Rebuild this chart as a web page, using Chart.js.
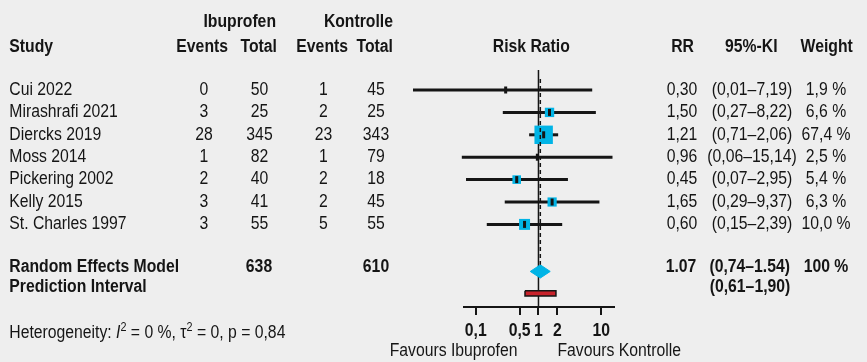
<!DOCTYPE html>
<html><head><meta charset="utf-8">
<script src="https://cdn.jsdelivr.net/npm/chart.js@4.4.1/dist/chart.umd.min.js"></script>
<style>html,body{margin:0;padding:0;background:#eeeeee;} canvas{display:block;}</style>
</head><body>
<canvas id="c" width="867" height="362" style="width:867px;height:362px"></canvas>
<script>
// ---- data ----
const studies = ['Cui 2022','Mirashrafi 2021','Diercks 2019','Moss 2014','Pickering 2002','Kelly 2015','St. Charles 1997'];
const ibuEvents = [0,3,28,1,2,3,3];
const ibuTotal = [50,25,345,82,40,41,55];
const ctrlEvents = [1,2,23,1,2,2,5];
const ctrlTotal = [45,25,343,79,18,45,55];
const rr = [0.30,1.50,1.21,0.96,0.45,1.65,0.60];
const ciLow = [0.01,0.27,0.71,0.06,0.07,0.29,0.15];
const ciHigh = [7.19,8.22,2.06,15.14,2.95,9.37,2.39];
const weights = [1.9,6.6,67.4,2.5,5.4,6.3,10.0];
const pooled = [0.74, 1.07, 1.54];      // low, estimate, high
const predInterval = [0.61, 1.90];
const totals = [638, 610];
const xTicks = [0.1,0.5,1,2,10];
const xTickLabels = ['0,1','0,5','1','2','10'];

// ---- layout ----
const W=867,H=362;
const AXIS_LEFT=464, AXIS_RIGHT=614, AXIS_Y=307;
const X_MIN=0.065, X_MAX=16;
const ROW0_Y=90, ROW_H=22.4;
const Y_MIN=-ROW0_Y/ROW_H, Y_MAX=Y_MIN+AXIS_Y/ROW_H;
const RE_ROW=8.1, PI_ROW=9.08;
const FONT='"Liberation Sans",Arial,sans-serif';
const FS=17.5, SX=0.9;
const CYAN='#00b4e6', INK='#151515';
const fmt=(v,d)=>v.toFixed(d).replace('.',',');

function squareSide(w){ const s=2+3.9*Math.log(w); return s<6?0:s; }

const datasets=[];
// dashed pooled line
datasets.push({data:[{x:pooled[1],y:(79-ROW0_Y)/ROW_H},{x:pooled[1],y:RE_ROW-0.3}],showLine:true,borderColor:INK,borderWidth:1.5,borderDash:[4,3],pointRadius:0,clip:false});
// point markers
datasets.push({data:rr.map((v,i)=>({x:v,y:i})),pointStyle:'line',pointRotation:90,pointRadius:3.5,pointBorderWidth:3,pointBorderColor:INK,pointBackgroundColor:INK,clip:false});
// prediction interval
const ph=2.7/ROW_H;
datasets.push({data:[{x:predInterval[0],y:PI_ROW-ph},{x:predInterval[1],y:PI_ROW-ph},{x:predInterval[1],y:PI_ROW+ph},{x:predInterval[0],y:PI_ROW+ph},{x:predInterval[0],y:PI_ROW-ph}],showLine:true,fill:'shape',backgroundColor:'#c8222b',borderColor:INK,borderWidth:1.5,pointRadius:0,clip:false});
// diamond
const dh=6.6/ROW_H;
datasets.push({data:[{x:pooled[0],y:RE_ROW},{x:pooled[1],y:RE_ROW-dh},{x:pooled[2],y:RE_ROW},{x:pooled[1],y:RE_ROW+dh},{x:pooled[0],y:RE_ROW}],showLine:true,fill:'shape',backgroundColor:CYAN,borderColor:CYAN,borderWidth:1,pointRadius:0,clip:false});
// weight squares
datasets.push({data:rr.map((v,i)=>({x:v,y:i})),pointStyle:'rect',pointRadius:weights.map(w=>squareSide(w)/Math.SQRT2),pointBorderWidth:0,pointBackgroundColor:CYAN,clip:false});
// CI lines
rr.forEach((v,i)=>datasets.push({data:[{x:ciLow[i],y:i},{x:ciHigh[i],y:i}],showLine:true,borderColor:INK,borderWidth:3,pointRadius:0,clip:false}));
// line of no effect
datasets.push({data:[{x:1,y:(70-ROW0_Y)/ROW_H},{x:1,y:Y_MAX}],showLine:true,borderColor:INK,borderWidth:1.5,pointRadius:0,clip:false});

const bgPlugin={id:'bg',beforeDraw(c){const g=c.ctx;g.save();g.fillStyle='#eeeeee';g.fillRect(0,0,c.width,c.height);g.restore();}};

const textPlugin={id:'txt',afterDraw(c){
  const g=c.ctx, ys=c.scales.y, xs=c.scales.x;
  g.save(); g.fillStyle=INK;
  const reg=FS+'px '+FONT, bold='bold '+FS+'px '+FONT;
  const t=(s,x,y,al,f)=>{g.save();g.font=f;g.textAlign=al;g.textBaseline='alphabetic';g.translate(x,y);g.scale(SX,1);g.fillText(s,0,0);g.restore();};
  // headers
  t('Ibuprofen',276,26.7,'right',bold); t('Kontrolle',393,26.7,'right',bold);
  t('Study',9.3,51.7,'left',bold);
  t('Events',228,51.7,'right',bold); t('Total',277,51.7,'right',bold);
  t('Events',348,51.7,'right',bold); t('Total',393,51.7,'right',bold);
  t('Risk Ratio',531.3,51.7,'center',bold);
  t('RR',682.5,51.7,'center',bold); t('95%-KI',751.3,51.7,'center',bold); t('Weight',826.7,51.7,'center',bold);
  // study rows
  studies.forEach((s,i)=>{
    const y=ys.getPixelForValue(i)+4.8;
    t(s,9.3,y,'left',reg);
    t(String(ibuEvents[i]),204,y,'center',reg);
    t(String(ibuTotal[i]),259.5,y,'center',reg);
    t(String(ctrlEvents[i]),323.5,y,'center',reg);
    t(String(ctrlTotal[i]),376,y,'center',reg);
    t(fmt(rr[i],2),682,y,'center',reg);
    t('('+fmt(ciLow[i],2)+'\u2013'+fmt(ciHigh[i],2)+')',752,y,'center',reg);
    t(fmt(weights[i],1)+' %',826,y,'center',reg);
  });
  // summary rows
  const yRE=ys.getPixelForValue(RE_ROW)+1, yPI=ys.getPixelForValue(PI_ROW)-1.2;
  t('Random Effects Model',9.3,yRE,'left',bold);
  t(String(totals[0]),259,yRE,'center',bold); t(String(totals[1]),376,yRE,'center',bold);
  t(pooled[1].toFixed(2),681,yRE,'center',bold);
  t('('+fmt(pooled[0],2)+'\u2013'+pooled[2].toFixed(2)+')',749.7,yRE,'center',bold);
  t('100 %',826,yRE,'center',bold);
  t('Prediction Interval',9.3,yPI,'left',bold);
  t('('+fmt(predInterval[0],2)+'\u2013'+fmt(predInterval[1],2)+')',750,yPI,'center',bold);
  // x tick labels (from the scale's own ticks)
  xs.ticks.forEach(tk=>t(tk.label,xs.getPixelForValue(tk.value),335.7,'center',bold));
  // heterogeneity
  let x=9.3; const yh=337.7;
  const seg=(s,f,dy)=>{g.font=f;t(s,x,yh+(dy||0),'left',f);x+=g.measureText(s).width*SX;};
  const sup='12px '+FONT;
  seg('Heterogeneity: ',reg); seg('I','italic '+reg); seg('2',sup,-6.5); seg(' = 0 %, \u03c4',reg); seg('2',sup,-6.5); seg(' = 0, p = 0,84',reg);
  // favours
  const x1=xs.getPixelForValue(1);
  t('Favours Ibuprofen',x1-21,356,'right',reg);
  t('Favours Kontrolle',x1+19,356,'left',reg);
  g.restore();
}};

new Chart(document.getElementById('c'),{
  type:'scatter',
  data:{datasets},
  options:{
    responsive:false, animation:false, devicePixelRatio:1,
    layout:{autoPadding:false,padding:{left:AXIS_LEFT,right:W-AXIS_RIGHT,top:0,bottom:0}},
    plugins:{legend:{display:false},tooltip:{enabled:false}},
    scales:{
      x:{type:'logarithmic',min:X_MIN,max:X_MAX,bounds:'data',
        afterBuildTicks:s=>{s.ticks=xTicks.map(v=>({value:v}));},
        afterFit:s=>{s.height=H-AXIS_Y;},
        grid:{drawOnChartArea:false,drawTicks:true,tickLength:8,color:INK,lineWidth:2},
        border:{display:true,color:INK,width:2},
        ticks:{display:false,autoSkip:false,maxRotation:0,minRotation:0,callback:(v,i)=>xTickLabels[i]}},
      y:{type:'linear',display:false,reverse:true,min:Y_MIN,max:Y_MAX}
    }
  },
  plugins:[bgPlugin,textPlugin]
});
</script>
</body></html>
